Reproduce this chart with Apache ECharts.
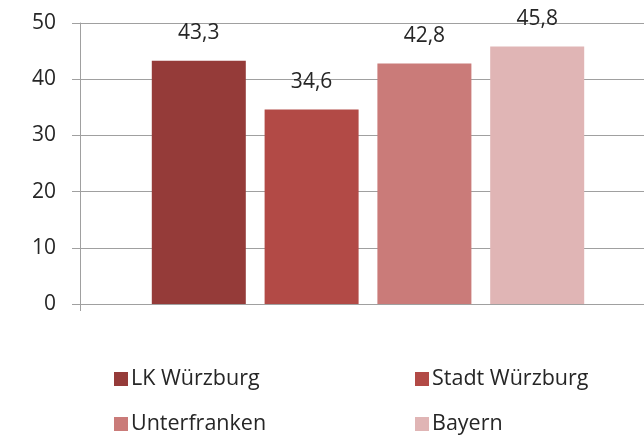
<!DOCTYPE html>
<html><head><meta charset="utf-8">
<script src="https://cdn.jsdelivr.net/npm/echarts@6/dist/echarts.min.js"></script>
<style>html,body{margin:0;padding:0;background:#fff;overflow:hidden}#c{width:656px;height:435px}</style>
</head><body><div id="c"></div>
<script>
const seriesNames = ["LK Würzburg", "Stadt Würzburg", "Unterfranken", "Bayern"];
const seriesValues = [43.3, 34.6, 42.8, 45.8];
const categories = [""];
const yTicks = [0, 10, 20, 30, 40, 50];
const colors = ["#953b39", "#b24a46", "#ca7b79", "#e0b5b5"];

const font = "'Open Sans', sans-serif";
const chart = echarts.init(document.getElementById('c'), null, {renderer: 'canvas'});
const legendPos = [[114, 368], [415, 368], [114, 413], [415, 413]];
chart.setOption({
  animation: false,
  textStyle: {fontFamily: font},
  grid: {left: 80, right: 0, top: 23, bottom: 131, containLabel: false},
  legend: seriesNames.map((n, i) => ({
    data: [n], left: legendPos[i][0], top: legendPos[i][1], icon: 'rect', padding: 0,
    itemWidth: 14, itemHeight: 14, itemGap: 0,
    textStyle: {fontFamily: font, fontSize: 21.5, color: '#262626', padding: [0, 0, 0, -2]}
  })),
  xAxis: {
    type: 'category', data: categories,
    axisLine: {lineStyle: {color: '#a0a0a0', width: 1}},
    axisTick: {show: true, length: 7, lineStyle: {color: '#a0a0a0'}},
    axisLabel: {show: false}
  },
  yAxis: {
    type: 'value', min: yTicks[0], max: yTicks[yTicks.length - 1], interval: 10,
    axisLine: {show: true, lineStyle: {color: '#a0a0a0', width: 1}},
    axisTick: {show: true, length: 8, lineStyle: {color: '#a0a0a0'}},
    splitLine: {lineStyle: {color: '#a0a0a0', width: 1}},
    axisLabel: {fontFamily: font, fontSize: 21, color: '#262626', margin: 24}
  },
  series: seriesNames.map((n, i) => ({
    name: n, type: 'bar', data: [seriesValues[i]],
    barWidth: 94, barGap: '20%',
    itemStyle: {color: colors[i]},
    label: {show: true, position: 'top', distance: 17, fontFamily: font, fontSize: 21, color: '#262626',
      formatter: p => String(p.value).replace('.', ',')}
  }))
});
</script></body></html>
